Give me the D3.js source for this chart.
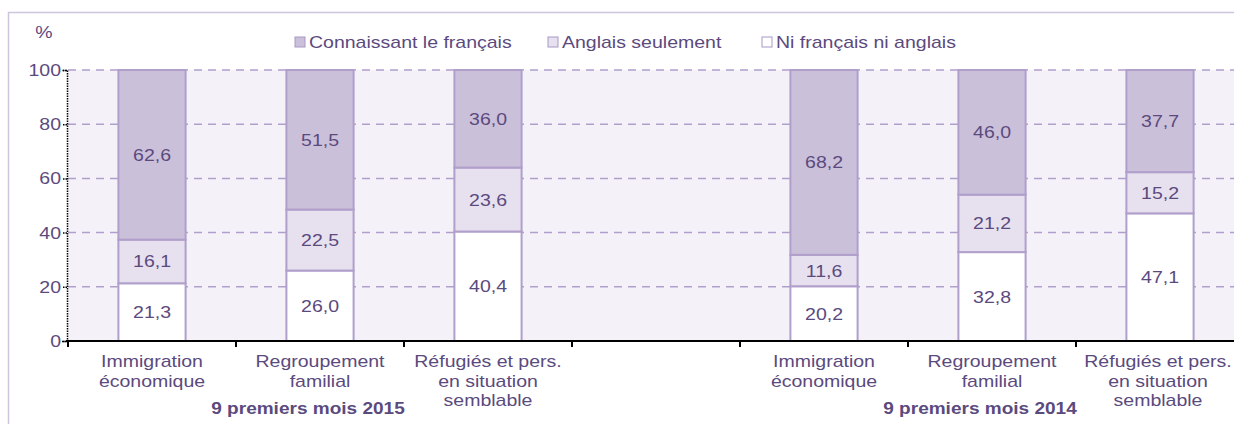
<!DOCTYPE html>
<html>
<head>
<meta charset="utf-8">
<script src="https://cdn.jsdelivr.net/npm/d3@7"></script>
<style>
  body { margin: 0; background: #fff; }
  svg { display: block; font-family: "Liberation Sans", Arial, sans-serif; }
  text { fill: #5b4a7e; }
</style>
</head>
<body>
<svg id="chart" width="1234" height="424"></svg>
<script>
  var seriesNames = ['Ni français ni anglais', 'Anglais seulement', 'Connaissant le français'];
  var legendOrder = ['Connaissant le français', 'Anglais seulement', 'Ni français ni anglais'];
  var categoryLines = [
    ['Immigration', 'économique'],
    ['Regroupement', 'familial'],
    ['Réfugiés et pers.', 'en situation', 'semblable']
  ];
  var periods = ['9 premiers mois 2015', '9 premiers mois 2014'];

  var niFrNiAng2015 = [21.3, 26.0, 40.4];
  var anglais2015 = [16.1, 22.5, 23.6];
  var francais2015 = [62.6, 51.5, 36.0];

  var niFrNiAng2014 = [20.2, 32.8, 47.1];
  var anglais2014 = [11.6, 21.2, 15.2];
  var francais2014 = [68.2, 46.0, 37.7];

  var yTicks = [0, 20, 40, 60, 80, 100];

  var colors = {
    'Connaissant le français': '#cbc0da',
    'Anglais seulement': '#e7e1ef',
    'Ni français ni anglais': '#ffffff'
  };
  var SX = 1.22;

  // slots: 3 categories, an empty slot, 3 categories
  var rows = [];
  [[niFrNiAng2015, anglais2015, francais2015], [niFrNiAng2014, anglais2014, francais2014]].forEach(function(set, p) {
    for (var i = 0; i < 3; i++) {
      var r = { slot: p * 4 + i, cat: i, period: p };
      r[seriesNames[0]] = set[0][i];
      r[seriesNames[1]] = set[1][i];
      r[seriesNames[2]] = set[2][i];
      rows.push(r);
    }
  });

  var svg = d3.select('#chart');

  function label(sel, x, y, txt, anchor) {
    return sel.append('text')
      .attr('transform', 'translate(' + x + ',' + y + ') scale(' + SX + ',1)')
      .attr('text-anchor', anchor || 'middle')
      .style('font-size', '16px')
      .text(txt);
  }

  // outer frame
  svg.append('rect')
    .attr('x', 8.5).attr('y', 12.5)
    .attr('width', 1240).attr('height', 420)
    .attr('fill', 'none')
    .attr('stroke', '#cdc4de')
    .attr('stroke-width', 1.5);

  var x = d3.scaleBand()
    .domain(d3.range(7))
    .range([68, 1244])
    .paddingInner(0.6)
    .paddingOuter(0.3);

  var y = d3.scaleLinear().domain([0, 100]).range([341, 70]);

  // plot background
  svg.append('rect')
    .attr('x', 68).attr('y', y(100))
    .attr('width', 1244 - 68).attr('height', y(0) - y(100))
    .attr('fill', '#f4f2f8');

  // gridlines
  svg.append('g').selectAll('line')
    .data(yTicks.filter(function(d) { return d > 0; }))
    .enter().append('line')
    .attr('x1', 68).attr('x2', 1244)
    .attr('y1', function(d) { return y(d); })
    .attr('y2', function(d) { return y(d); })
    .attr('stroke', '#b09fcc')
    .attr('stroke-width', 1.5)
    .attr('stroke-dasharray', '8,6');

  // stacked bars
  var stack = d3.stack().keys(seriesNames);
  var layers = stack(rows);

  var bars = svg.append('g');
  layers.forEach(function(layer) {
    bars.selectAll(null)
      .data(layer)
      .enter().append('rect')
      .attr('x', function(d) { return x(d.data.slot); })
      .attr('width', x.bandwidth())
      .attr('y', function(d) { return y(d[1]); })
      .attr('height', function(d) { return y(d[0]) - y(d[1]); })
      .attr('fill', colors[layer.key])
      .attr('stroke', '#b09fcb')
      .attr('stroke-width', 2);
  });

  layers.forEach(function(layer) {
    layer.forEach(function(d) {
      var v = d[1] - d[0];
      label(svg, x(d.data.slot) + x.bandwidth() / 2, y((d[0] + d[1]) / 2) + 6, d3.format('.1f')(v).replace('.', ','));
    });
  });

  // y axis (dotted)
  var yAxis = d3.axisLeft(y).tickValues(yTicks).tickSize(5).tickFormat('');
  var yg = svg.append('g').attr('transform', 'translate(67,0)').call(yAxis);
  yg.select('.domain').attr('stroke', '#000').attr('stroke-width', 1.5).attr('stroke-dasharray', '1.5,1');
  yg.selectAll('.tick line').attr('stroke', '#000').attr('stroke-width', 1.5).attr('stroke-dasharray', '1.5,1');
  yTicks.forEach(function(t) {
    label(svg, 61, y(t) + 6, String(t), 'end');
  });

  // x axis
  var xg = svg.append('g').attr('transform', 'translate(0,' + y(0) + ')');
  xg.append('line').attr('x1', 66).attr('x2', 1244).attr('stroke', '#000').attr('stroke-width', 2);
  xg.selectAll('line.tk')
    .data(d3.range(8))
    .enter().append('line')
    .attr('class', 'tk')
    .attr('x1', function(i) { return 68 + i * x.step(); })
    .attr('x2', function(i) { return 68 + i * x.step(); })
    .attr('y1', 0).attr('y2', 6)
    .attr('stroke', '#000').attr('stroke-width', 2);

  // category labels
  rows.forEach(function(r) {
    var cx = x(r.slot) + x.bandwidth() / 2;
    if (r.slot === 6) cx -= 2;
    categoryLines[r.cat].forEach(function(line, k) {
      label(svg, cx, 367 + k * 19.5, line);
    });
  });

  // period labels
  periods.forEach(function(p, i) {
    var cx = x(i * 4 + 1) + x.bandwidth() / 2 - 12;
    label(svg, cx, 414, p).style('font-weight', 'bold').attr('transform', 'translate(' + cx + ',414) scale(1.12,1)').style('font-size', '17px');
  });

  // "%" unit
  label(svg, 44, 38, '%');

  // legend
  var legendX = [295, 548, 762];
  legendOrder.forEach(function(name, i) {
    svg.append('rect')
      .attr('x', legendX[i]).attr('y', 37)
      .attr('width', 10).attr('height', 10)
      .attr('fill', colors[name])
      .attr('stroke', '#a897c4')
      .attr('stroke-width', 1);
    label(svg, legendX[i] + 14, 48, name, 'start');
  });
</script>
</body>
</html>
